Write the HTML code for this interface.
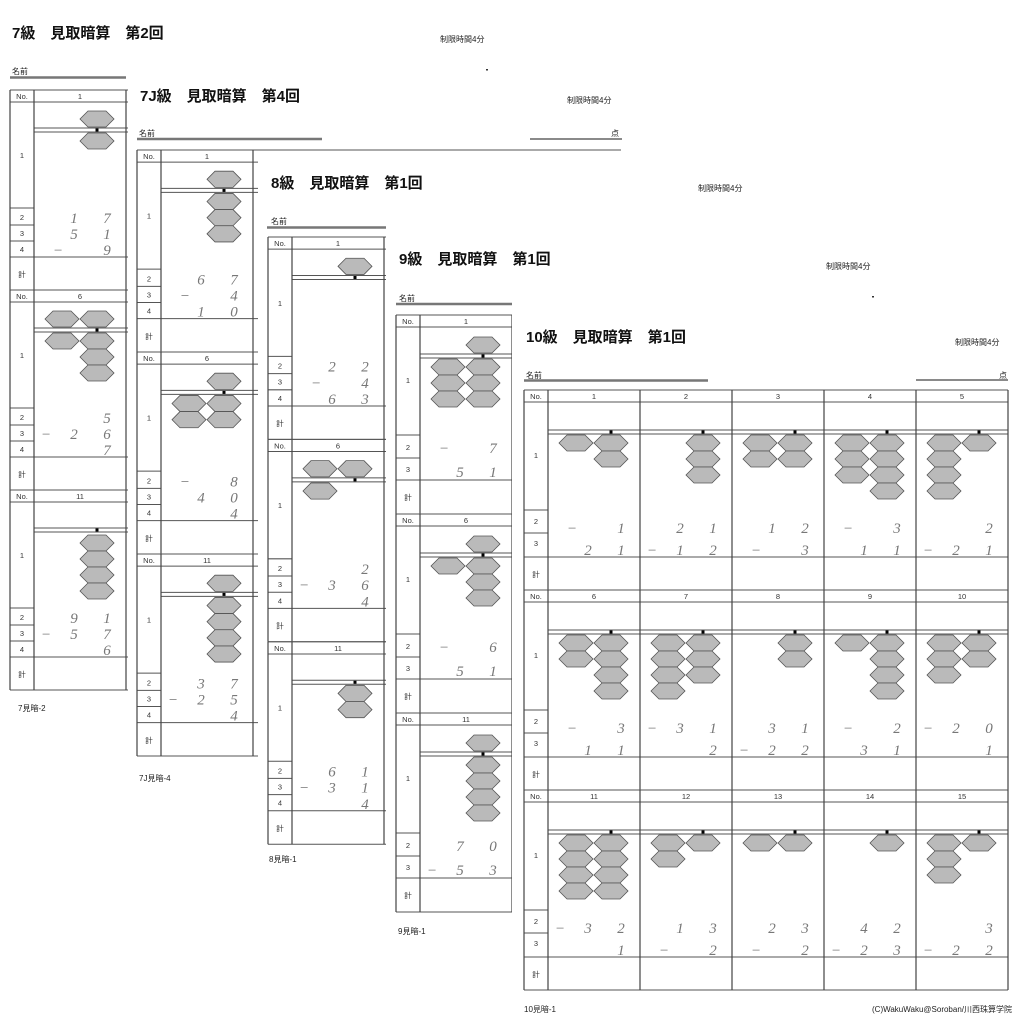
<!DOCTYPE html>
<html><head><meta charset="utf-8"><style>
html,body{margin:0;padding:0;background:#fff;width:1024px;height:1024px;overflow:hidden}
svg{display:block}
.t{font-family:"Liberation Sans","Noto Sans CJK JP",sans-serif;font-weight:bold;font-size:15px;fill:#111}
.s{font-family:"Liberation Sans","Noto Sans CJK JP",sans-serif;font-size:8px;fill:#222}
.l{font-family:"Liberation Sans","Noto Sans CJK JP",sans-serif;font-size:7.5px;fill:#333;text-anchor:middle}
.d{font-family:"Liberation Serif","DejaVu Serif",serif;font-style:italic;font-size:15px;fill:#777;text-anchor:middle}
</style></head><body>
<svg width="1024" height="1024" viewBox="0 0 1024 1024" xmlns="http://www.w3.org/2000/svg">
<defs>
<polygon id="h" points="-17,0 -9,-8 9,-8 17,0 9,8 -9,8" fill="#bababa" stroke="#555" stroke-width="0.8"/>
<rect id="dt" x="-1.5" y="-1.5" width="3" height="3" fill="#000"/>
<g id="sk4">
<path d="M0 0H484M0 12H484M0 167H484M0 200H484M0 118H24M0 135H24M0 151H24M24 38H484M24 42H484" stroke="#555" stroke-width="1" fill="none"/>
<path d="M0 0V200M24 0V200M116 0V200" stroke="#444" stroke-width="1.2" fill="none"/>
<text class="l" x="12" y="9">No.</text><text class="l" x="12" y="68">1</text><text class="l" x="12" y="130">2</text><text class="l" x="12" y="146">3</text><text class="l" x="12" y="162">4</text><text class="l" x="12" y="187">計</text>
</g>
<g id="sk3">
<path d="M0 0H484M0 12H484M0 165H484M0 199H484M0 120H24M0 143H24M24 39H484M24 43H484" stroke="#555" stroke-width="1" fill="none"/>
<path d="M0 0V199M24 0V199M116 0V199" stroke="#444" stroke-width="1.2" fill="none"/>
<text class="l" x="12" y="9">No.</text><text class="l" x="12" y="68">1</text><text class="l" x="12" y="135">2</text><text class="l" x="12" y="157">3</text><text class="l" x="12" y="185">計</text>
</g>
<g id="sk5">
<path d="M0 0H484M0 12H484M0 167H484M0 200H484M0 120H24M0 143H24M24 40H484M24 44H484" stroke="#555" stroke-width="1" fill="none"/>
<path d="M0 0V200M24 0V200M116 0V200M208 0V200M300 0V200M392 0V200M484 0V200" stroke="#444" stroke-width="1.2" fill="none"/>
<text class="l" x="12" y="9">No.</text><text class="l" x="12" y="68">1</text><text class="l" x="12" y="134">2</text><text class="l" x="12" y="156">3</text><text class="l" x="12" y="187">計</text>
</g>
</defs>
<rect width="1024" height="1024" fill="#fff"/>

<!-- Sheet 1 -->
<text class="t" x="12" y="38">7級　見取暗算　第2回</text>
<text class="s" x="440" y="42">制限時間4分</text>
<text class="s" x="12" y="74">名前</text>
<line x1="10" y1="77.5" x2="126" y2="77.5" stroke="#777" stroke-width="2.5"/>
<rect x="486" y="69" width="2" height="1.5" fill="#333"/>
<g transform="translate(10,90)">
<use href="#sk4"/>
<text class="l" x="70" y="9">1</text>
<use href="#h" x="87" y="29"/><use href="#h" x="87" y="51"/><use href="#dt" x="87" y="40"/>
<text class="d" x="64" y="133">1</text><text class="d" x="97" y="133">7</text>
<text class="d" x="64" y="149">5</text><text class="d" x="97" y="149">1</text>
<text class="d" x="48" y="165">−</text><text class="d" x="97" y="165">9</text>
<g transform="translate(0,200)">
<use href="#sk4"/>
<text class="l" x="70" y="9">6</text>
<use href="#h" x="52" y="29"/><use href="#h" x="87" y="29"/><use href="#h" x="52" y="51"/><use href="#h" x="87" y="51"/><use href="#h" x="87" y="67"/><use href="#h" x="87" y="83"/><use href="#dt" x="87" y="40"/>
<text class="d" x="97" y="133">5</text>
<text class="d" x="36" y="149">−</text><text class="d" x="64" y="149">2</text><text class="d" x="97" y="149">6</text>
<text class="d" x="97" y="165">7</text>
</g>
<g transform="translate(0,400)">
<use href="#sk4"/>
<text class="l" x="70" y="9">11</text>
<use href="#h" x="87" y="53"/><use href="#h" x="87" y="69"/><use href="#h" x="87" y="85"/><use href="#h" x="87" y="101"/><use href="#dt" x="87" y="40"/>
<text class="d" x="64" y="133">9</text><text class="d" x="97" y="133">1</text>
<text class="d" x="36" y="149">−</text><text class="d" x="64" y="149">5</text><text class="d" x="97" y="149">7</text>
<text class="d" x="97" y="165">6</text>
</g>
</g>
<text class="s" x="18" y="711">7見暗-2</text>

<!-- Sheet 2 -->
<rect x="128" y="74" width="896" height="950" fill="#fff"/>
<text class="t" x="140" y="101">7J級　見取暗算　第4回</text>
<text class="s" x="567" y="103">制限時間4分</text>
<text class="s" x="139" y="136">名前</text>
<line x1="137" y1="139" x2="322" y2="139" stroke="#777" stroke-width="2.5"/>
<line x1="530" y1="139" x2="622" y2="139" stroke="#444" stroke-width="1.2"/>
<text class="s" x="611" y="136">点</text>
<g transform="translate(137,150) scale(1,1.01)">
<use href="#sk4"/>
<text class="l" x="70" y="9">1</text>
<use href="#h" x="87" y="29"/><use href="#h" x="87" y="51"/><use href="#h" x="87" y="67"/><use href="#h" x="87" y="83"/><use href="#dt" x="87" y="40"/>
<text class="d" x="64" y="133">6</text><text class="d" x="97" y="133">7</text>
<text class="d" x="48" y="149">−</text><text class="d" x="97" y="149">4</text>
<text class="d" x="64" y="165">1</text><text class="d" x="97" y="165">0</text>
<g transform="translate(0,200)">
<use href="#sk4"/>
<text class="l" x="70" y="9">6</text>
<use href="#h" x="87" y="29"/><use href="#h" x="52" y="51"/><use href="#h" x="87" y="51"/><use href="#h" x="52" y="67"/><use href="#h" x="87" y="67"/><use href="#dt" x="87" y="40"/>
<text class="d" x="48" y="133">−</text><text class="d" x="97" y="133">8</text>
<text class="d" x="64" y="149">4</text><text class="d" x="97" y="149">0</text>
<text class="d" x="97" y="165">4</text>
</g>
<g transform="translate(0,400)">
<use href="#sk4"/>
<text class="l" x="70" y="9">11</text>
<use href="#h" x="87" y="29"/><use href="#h" x="87" y="51"/><use href="#h" x="87" y="67"/><use href="#h" x="87" y="83"/><use href="#h" x="87" y="99"/><use href="#dt" x="87" y="40"/>
<text class="d" x="64" y="133">3</text><text class="d" x="97" y="133">7</text>
<text class="d" x="36" y="149">−</text><text class="d" x="64" y="149">2</text><text class="d" x="97" y="149">5</text>
<text class="d" x="97" y="165">4</text>
</g>
</g>
<text class="s" x="139" y="781">7J見暗-4</text>

<!-- Sheet 3 -->
<rect x="258" y="155" width="766" height="869" fill="#fff"/>
<text class="t" x="271" y="188">8級　見取暗算　第1回</text>
<text class="s" x="698" y="191">制限時間4分</text>
<text class="s" x="271" y="224">名前</text>
<line x1="267" y1="227.5" x2="386" y2="227.5" stroke="#777" stroke-width="2.5"/>
<rect x="747" y="219" width="2" height="1.5" fill="#333"/>
<g transform="translate(268,237) scale(1,1.012)">
<use href="#sk4"/>
<text class="l" x="70" y="9">1</text>
<use href="#h" x="87" y="29"/><use href="#dt" x="87" y="40"/>
<text class="d" x="64" y="133">2</text><text class="d" x="97" y="133">2</text>
<text class="d" x="48" y="149">−</text><text class="d" x="97" y="149">4</text>
<text class="d" x="64" y="165">6</text><text class="d" x="97" y="165">3</text>
<g transform="translate(0,200)">
<use href="#sk4"/>
<text class="l" x="70" y="9">6</text>
<use href="#h" x="52" y="29"/><use href="#h" x="87" y="29"/><use href="#h" x="52" y="51"/><use href="#dt" x="87" y="40"/>
<text class="d" x="97" y="133">2</text>
<text class="d" x="36" y="149">−</text><text class="d" x="64" y="149">3</text><text class="d" x="97" y="149">6</text>
<text class="d" x="97" y="165">4</text>
</g>
<g transform="translate(0,400)">
<use href="#sk4"/>
<text class="l" x="70" y="9">11</text>
<use href="#h" x="87" y="51"/><use href="#h" x="87" y="67"/><use href="#dt" x="87" y="40"/>
<text class="d" x="64" y="133">6</text><text class="d" x="97" y="133">1</text>
<text class="d" x="36" y="149">−</text><text class="d" x="64" y="149">3</text><text class="d" x="97" y="149">1</text>
<text class="d" x="97" y="165">4</text>
</g>
</g>
<text class="s" x="269" y="862">8見暗-1</text>

<!-- Sheet 4 -->
<rect x="386" y="205" width="638" height="819" fill="#fff"/>
<text class="t" x="399" y="264">9級　見取暗算　第1回</text>
<text class="s" x="826" y="269">制限時間4分</text>
<text class="s" x="399" y="301">名前</text>
<line x1="396" y1="304" x2="512" y2="304" stroke="#777" stroke-width="2.5"/>
<rect x="872" y="296" width="2" height="1.5" fill="#333"/>
<g transform="translate(396,315)">
<use href="#sk3"/>
<text class="l" x="70" y="9">1</text>
<use href="#h" x="87" y="30"/><use href="#h" x="52" y="52"/><use href="#h" x="87" y="52"/><use href="#h" x="52" y="68"/><use href="#h" x="87" y="68"/><use href="#h" x="52" y="84"/><use href="#h" x="87" y="84"/><use href="#dt" x="87" y="41"/>
<text class="d" x="48" y="138">−</text><text class="d" x="97" y="138">7</text>
<text class="d" x="64" y="162">5</text><text class="d" x="97" y="162">1</text>
<g transform="translate(0,199)">
<use href="#sk3"/>
<text class="l" x="70" y="9">6</text>
<use href="#h" x="87" y="30"/><use href="#h" x="52" y="52"/><use href="#h" x="87" y="52"/><use href="#h" x="87" y="68"/><use href="#h" x="87" y="84"/><use href="#dt" x="87" y="41"/>
<text class="d" x="48" y="138">−</text><text class="d" x="97" y="138">6</text>
<text class="d" x="64" y="162">5</text><text class="d" x="97" y="162">1</text>
</g>
<g transform="translate(0,398)">
<use href="#sk3"/>
<text class="l" x="70" y="9">11</text>
<use href="#h" x="87" y="30"/><use href="#h" x="87" y="52"/><use href="#h" x="87" y="68"/><use href="#h" x="87" y="84"/><use href="#h" x="87" y="100"/><use href="#dt" x="87" y="41"/>
<text class="d" x="64" y="138">7</text><text class="d" x="97" y="138">0</text>
<text class="d" x="36" y="162">−</text><text class="d" x="64" y="162">5</text><text class="d" x="97" y="162">3</text>
</g>
</g>
<text class="s" x="398" y="934">9見暗-1</text>

<!-- Sheet 5 -->
<rect x="512" y="300" width="512" height="724" fill="#fff"/>
<text class="t" x="526" y="342">10級　見取暗算　第1回</text>
<text class="s" x="955" y="345">制限時間4分</text>
<text class="s" x="526" y="378">名前</text>
<line x1="524" y1="380.5" x2="708" y2="380.5" stroke="#777" stroke-width="2.5"/>
<line x1="916" y1="380" x2="1008" y2="380" stroke="#444" stroke-width="1.2"/>
<text class="s" x="999" y="378">点</text>
<g transform="translate(524,390)">
<use href="#sk5"/>
<text class="l" x="70" y="9">1</text><text class="l" x="162" y="9">2</text><text class="l" x="254" y="9">3</text><text class="l" x="346" y="9">4</text><text class="l" x="438" y="9">5</text>
<use href="#dt" x="87" y="42"/><use href="#dt" x="179" y="42"/><use href="#dt" x="271" y="42"/><use href="#dt" x="363" y="42"/><use href="#dt" x="455" y="42"/>
<use href="#h" x="52" y="53"/><use href="#h" x="87" y="53"/><use href="#h" x="87" y="69"/>
<use href="#h" x="179" y="53"/><use href="#h" x="179" y="69"/><use href="#h" x="179" y="85"/>
<use href="#h" x="236" y="53"/><use href="#h" x="236" y="69"/><use href="#h" x="271" y="53"/><use href="#h" x="271" y="69"/>
<use href="#h" x="328" y="53"/><use href="#h" x="328" y="69"/><use href="#h" x="328" y="85"/><use href="#h" x="363" y="53"/><use href="#h" x="363" y="69"/><use href="#h" x="363" y="85"/><use href="#h" x="363" y="101"/>
<use href="#h" x="420" y="53"/><use href="#h" x="420" y="69"/><use href="#h" x="420" y="85"/><use href="#h" x="420" y="101"/><use href="#h" x="455" y="53"/>
<text class="d" x="48" y="143">−</text><text class="d" x="97" y="143">1</text>
<text class="d" x="64" y="165">2</text><text class="d" x="97" y="165">1</text>
<text class="d" x="156" y="143">2</text><text class="d" x="189" y="143">1</text>
<text class="d" x="128" y="165">−</text><text class="d" x="156" y="165">1</text><text class="d" x="189" y="165">2</text>
<text class="d" x="248" y="143">1</text><text class="d" x="281" y="143">2</text>
<text class="d" x="232" y="165">−</text><text class="d" x="281" y="165">3</text>
<text class="d" x="324" y="143">−</text><text class="d" x="373" y="143">3</text>
<text class="d" x="340" y="165">1</text><text class="d" x="373" y="165">1</text>
<text class="d" x="465" y="143">2</text>
<text class="d" x="404" y="165">−</text><text class="d" x="432" y="165">2</text><text class="d" x="465" y="165">1</text>
</g>
<g transform="translate(524,590)">
<use href="#sk5"/>
<text class="l" x="70" y="9">6</text><text class="l" x="162" y="9">7</text><text class="l" x="254" y="9">8</text><text class="l" x="346" y="9">9</text><text class="l" x="438" y="9">10</text>
<use href="#dt" x="87" y="42"/><use href="#dt" x="179" y="42"/><use href="#dt" x="271" y="42"/><use href="#dt" x="363" y="42"/><use href="#dt" x="455" y="42"/>
<use href="#h" x="52" y="53"/><use href="#h" x="52" y="69"/><use href="#h" x="87" y="53"/><use href="#h" x="87" y="69"/><use href="#h" x="87" y="85"/><use href="#h" x="87" y="101"/>
<use href="#h" x="144" y="53"/><use href="#h" x="144" y="69"/><use href="#h" x="144" y="85"/><use href="#h" x="144" y="101"/><use href="#h" x="179" y="53"/><use href="#h" x="179" y="69"/><use href="#h" x="179" y="85"/>
<use href="#h" x="271" y="53"/><use href="#h" x="271" y="69"/>
<use href="#h" x="328" y="53"/><use href="#h" x="363" y="53"/><use href="#h" x="363" y="69"/><use href="#h" x="363" y="85"/><use href="#h" x="363" y="101"/>
<use href="#h" x="420" y="53"/><use href="#h" x="420" y="69"/><use href="#h" x="420" y="85"/><use href="#h" x="455" y="53"/><use href="#h" x="455" y="69"/>
<text class="d" x="48" y="143">−</text><text class="d" x="97" y="143">3</text>
<text class="d" x="64" y="165">1</text><text class="d" x="97" y="165">1</text>
<text class="d" x="128" y="143">−</text><text class="d" x="156" y="143">3</text><text class="d" x="189" y="143">1</text>
<text class="d" x="189" y="165">2</text>
<text class="d" x="248" y="143">3</text><text class="d" x="281" y="143">1</text>
<text class="d" x="220" y="165">−</text><text class="d" x="248" y="165">2</text><text class="d" x="281" y="165">2</text>
<text class="d" x="324" y="143">−</text><text class="d" x="373" y="143">2</text>
<text class="d" x="340" y="165">3</text><text class="d" x="373" y="165">1</text>
<text class="d" x="404" y="143">−</text><text class="d" x="432" y="143">2</text><text class="d" x="465" y="143">0</text>
<text class="d" x="465" y="165">1</text>
</g>
<g transform="translate(524,790)">
<use href="#sk5"/>
<text class="l" x="70" y="9">11</text><text class="l" x="162" y="9">12</text><text class="l" x="254" y="9">13</text><text class="l" x="346" y="9">14</text><text class="l" x="438" y="9">15</text>
<use href="#dt" x="87" y="42"/><use href="#dt" x="179" y="42"/><use href="#dt" x="271" y="42"/><use href="#dt" x="363" y="42"/><use href="#dt" x="455" y="42"/>
<use href="#h" x="52" y="53"/><use href="#h" x="52" y="69"/><use href="#h" x="52" y="85"/><use href="#h" x="52" y="101"/><use href="#h" x="87" y="53"/><use href="#h" x="87" y="69"/><use href="#h" x="87" y="85"/><use href="#h" x="87" y="101"/>
<use href="#h" x="144" y="53"/><use href="#h" x="144" y="69"/><use href="#h" x="179" y="53"/>
<use href="#h" x="236" y="53"/><use href="#h" x="271" y="53"/>
<use href="#h" x="363" y="53"/>
<use href="#h" x="420" y="53"/><use href="#h" x="420" y="69"/><use href="#h" x="420" y="85"/><use href="#h" x="455" y="53"/>
<text class="d" x="36" y="143">−</text><text class="d" x="64" y="143">3</text><text class="d" x="97" y="143">2</text>
<text class="d" x="97" y="165">1</text>
<text class="d" x="156" y="143">1</text><text class="d" x="189" y="143">3</text>
<text class="d" x="140" y="165">−</text><text class="d" x="189" y="165">2</text>
<text class="d" x="248" y="143">2</text><text class="d" x="281" y="143">3</text>
<text class="d" x="232" y="165">−</text><text class="d" x="281" y="165">2</text>
<text class="d" x="340" y="143">4</text><text class="d" x="373" y="143">2</text>
<text class="d" x="312" y="165">−</text><text class="d" x="340" y="165">2</text><text class="d" x="373" y="165">3</text>
<text class="d" x="465" y="143">3</text>
<text class="d" x="404" y="165">−</text><text class="d" x="432" y="165">2</text><text class="d" x="465" y="165">2</text>
</g>
<text class="s" x="524" y="1012">10見暗-1</text>
<text class="s" x="1012" y="1012" text-anchor="end">(C)WakuWaku@Soroban/川西珠算学院</text>
</svg>
</body></html>
